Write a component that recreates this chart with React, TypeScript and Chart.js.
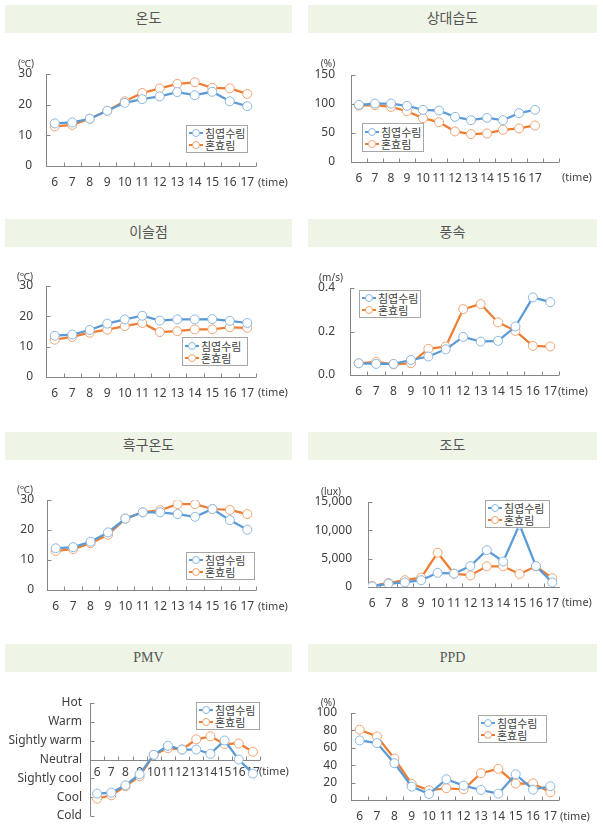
import React, { useEffect, useRef } from 'react';
import { Chart, registerables } from 'chart.js';

Chart.register(...registerables);

// ---------------- data ----------------
const HOURS = [6, 7, 8, 9, 10, 11, 12, 13, 14, 15, 16, 17];
const SERIES_NAMES = ['침엽수림', '혼효림'];
const PANEL_TITLES = ['온도', '상대습도', '이슬점', '풍속', '흑구온도', '조도', 'PMV', 'PPD'];
const UNIT_LABELS = ['(℃)', '(%)', '(℃)', '(m/s)', '(℃)', '(lux)', '', '(%)'];
const TIME_LABEL = '(time)';
const PMV_LEVELS = ['Cold', 'Cool', 'Sightly cool', 'Neutral', 'Sightly warm', 'Warm', 'Hot'];

const TEMP_CONIFER = [13.9, 14.2, 15.4, 18.0, 20.6, 21.8, 22.7, 24.1, 23.1, 24.2, 21.1, 19.5];
const TEMP_MIXED = [12.9, 13.4, 15.4, 18.0, 21.1, 23.8, 25.3, 26.8, 27.3, 25.5, 25.3, 23.5];
const RH_CONIFER = [98.5, 100.8, 100.8, 96.8, 89.9, 88.7, 77.9, 72.1, 76.1, 72.1, 84.2, 89.9];
const RH_MIXED = [97.3, 97.9, 95.0, 87.6, 75.6, 68.7, 52.7, 48.1, 49.2, 55.5, 57.8, 63.0];
const DEW_CONIFER = [13.6, 14.0, 15.5, 17.6, 19.0, 20.2, 18.6, 19.0, 19.0, 19.1, 18.5, 17.8];
const DEW_MIXED = [12.3, 13.2, 14.6, 15.6, 16.8, 17.8, 14.8, 15.1, 15.7, 15.7, 16.4, 16.2];
const WIND_CONIFER = [0.054, 0.051, 0.051, 0.069, 0.085, 0.118, 0.175, 0.154, 0.157, 0.223, 0.357, 0.335];
const WIND_MIXED = [0.054, 0.06, 0.049, 0.054, 0.12, 0.131, 0.303, 0.326, 0.242, 0.203, 0.134, 0.131];
const GLOBE_CONIFER = [13.9, 14.3, 16.1, 19.2, 23.8, 25.9, 25.9, 25.3, 24.4, 27.0, 23.3, 20.1];
const GLOBE_MIXED = [13.0, 13.6, 15.6, 18.4, 23.8, 25.9, 26.6, 28.6, 28.6, 27.0, 26.7, 25.3];
const LUX_CONIFER = [100, 600, 800, 1200, 2500, 2350, 3700, 6500, 4500, 11000, 3700, 800];
const LUX_MIXED = [200, 700, 1200, 1650, 6050, 2350, 2050, 3650, 3650, 2300, 3650, 1550];
const PMV_CONIFER = [-1.81, -1.76, -1.37, -0.78, 0.25, 0.73, 0.53, 0.53, 0.3, 1.01, 0.0, -0.75];
const PMV_MIXED = [-2.08, -1.9, -1.42, -0.89, 0.25, 0.6, 0.53, 1.07, 1.23, 0.82, 0.85, 0.41];
const PPD_CONIFER = [68.5, 65.4, 42.3, 15.4, 6.9, 23.8, 16.5, 11.5, 7.3, 29.6, 11.9, 15.8];
const PPD_MIXED = [80.8, 73.1, 47.7, 18.5, 11.2, 13.5, 12.3, 30.8, 35.8, 18.8, 19.2, 8.8];

// ---------------- styles ----------------
const SERIES_COLORS = ['#5B9BD5', '#ED7D31'];
const MARKER_BORDERS = ['#8AB8E2', '#F2A473'];
const AXIS_COLOR = '#868686';
const TEXT_COLOR = '#404040';
const NUM_FONT = "'Noto Sans', 'DejaVu Sans', sans-serif";
const KR_FONT = "'Noto Sans CJK KR', 'Noto Sans', sans-serif";

type Panel = {
  title: string;
  series: number[][];
  col: number;
  row: number;
  y: [number, number, number];
  x: [number, number];
  area: [number, number, number, number]; // axisX, top, right, bottom (page px)
  yPad: number;
  unit: string;
  unitAt: [number, number];
  timeAt: [number, number];
  legend: [number, number, number, number];
  fmt?: (v: number) => string;
  pmv?: boolean;
};

const PANELS: Panel[] = [
  { title: PANEL_TITLES[0], series: [TEMP_CONIFER, TEMP_MIXED], col: 0, row: 0, y: [0, 30, 10], x: [5.5, 17.5],
    area: [46, 74, 256, 166], yPad: 14, unit: UNIT_LABELS[0], unitAt: [26, 64], timeAt: [258, 183], legend: [186, 125, 62, 28] },
  { title: PANEL_TITLES[1], series: [RH_CONIFER, RH_MIXED], col: 1, row: 0, y: [0, 150, 50], x: [5.5, 18.5],
    area: [351, 75, 559, 162], yPad: 16, unit: UNIT_LABELS[1], unitAt: [328, 64], timeAt: [562, 178], legend: [362, 123, 62, 29] },
  { title: PANEL_TITLES[2], series: [DEW_CONIFER, DEW_MIXED], col: 0, row: 1, y: [0, 30, 10], x: [5.5, 17.5],
    area: [46, 286, 256, 377], yPad: 13, unit: UNIT_LABELS[2], unitAt: [25, 277], timeAt: [258, 393], legend: [182, 337, 66, 29] },
  { title: PANEL_TITLES[3], series: [WIND_CONIFER, WIND_MIXED], col: 1, row: 1, y: [0, 0.4, 0.2], x: [5.5, 17.5],
    area: [350, 288, 559, 375], yPad: 15, unit: UNIT_LABELS[3], unitAt: [331, 278], timeAt: [558, 392], legend: [359, 290, 62, 28],
    fmt: (v) => v.toFixed(1) },
  { title: PANEL_TITLES[4], series: [GLOBE_CONIFER, GLOBE_MIXED], col: 0, row: 2, y: [0, 30, 10], x: [5.5, 17.5],
    area: [47, 500, 256, 590], yPad: 13, unit: UNIT_LABELS[4], unitAt: [25, 490], timeAt: [258, 607], legend: [186, 552, 69, 28] },
  { title: PANEL_TITLES[5], series: [LUX_CONIFER, LUX_MIXED], col: 1, row: 2, y: [0, 15000, 5000], x: [5.75, 17.47],
    area: [368, 502, 560, 587], yPad: 16, unit: UNIT_LABELS[5], unitAt: [331, 492], timeAt: [562, 603], legend: [485, 500, 65, 28],
    fmt: (v) => v.toLocaleString('en-US') },
  { title: PANEL_TITLES[6], series: [PMV_CONIFER, PMV_MIXED], col: 0, row: 3, y: [-3, 3, 1], x: [5.5, 17.5],
    area: [90, 703, 260, 816], yPad: 8, unit: UNIT_LABELS[6], unitAt: [0, 0], timeAt: [259, 772], legend: [196, 702, 64, 28],
    fmt: (v) => PMV_LEVELS[Math.round(v) + 3], pmv: true },
  { title: PANEL_TITLES[7], series: [PPD_CONIFER, PPD_MIXED], col: 1, row: 3, y: [0, 100, 20], x: [5.5, 17.5],
    area: [351, 713, 559, 800], yPad: 14, unit: UNIT_LABELS[7], unitAt: [328, 703], timeAt: [560, 817], legend: [478, 715, 69, 28] },
];

const ROW_TOPS = [34, 248, 461, 673];
const BAR_TOPS = [5, 219, 432, 644];

const axesPlugin = {
  id: 'axesDraw',
  beforeDatasetsDraw(chart: any, _a: any, o: any) {
    const { ctx, chartArea: ca, scales } = chart;
    const lx = Math.round(ca.left) + 0.5;
    const by = Math.round(scales.y.getPixelForValue(o.crossY)) + 0.5;
    ctx.save();
    ctx.strokeStyle = AXIS_COLOR;
    ctx.lineWidth = 1;
    ctx.beginPath();
    ctx.moveTo(lx, ca.top);
    ctx.lineTo(lx, ca.bottom);
    ctx.moveTo(ca.left, by);
    ctx.lineTo(ca.right, by);
    scales.y.ticks.forEach((t: any) => {
      const py = Math.round(scales.y.getPixelForValue(t.value)) + 0.5;
      ctx.moveTo(lx, py);
      ctx.lineTo(lx + 4, py);
    });
    o.xTicks.forEach((v: number) => {
      const px = Math.round(scales.x.getPixelForValue(v)) + 0.5;
      ctx.moveTo(px, by);
      ctx.lineTo(px, by - 4);
    });
    ctx.stroke();
    ctx.restore();
  },
  afterDraw(chart: any, _a: any, o: any) {
    const { ctx } = chart;
    ctx.save();
    ctx.fillStyle = TEXT_COLOR;
    ctx.textBaseline = 'middle';
    ctx.font = `11px ${NUM_FONT}`;
    ctx.textAlign = 'left';
    ctx.fillText(o.time, o.timeAt[0], o.timeAt[1]);
    if (o.unit) {
      ctx.font = `10px ${NUM_FONT}`;
      ctx.textAlign = 'center';
      ctx.fillText(o.unit, o.unitAt[0], o.unitAt[1]);
    }
    ctx.restore();
  },
};

function ChartPanel({ p }: { p: Panel }) {
  const ref = useRef<HTMLCanvasElement>(null);
  const L = p.col ? 300 : 0;
  const W = p.col ? 303 : 300;
  const T = ROW_TOPS[p.row];
  const H = p.row === 3 ? 161 : 180;
  useEffect(() => {
    const [ax, top, right, bottom] = p.area;
    const padTop = top - T;
    const padRight = L + W - right;
    const yW = ax - L;
    const xH = T + H - bottom;
    const xTicks: number[] = [];
    for (let v = Math.ceil(p.x[0] - 0.5) + 0.5; v <= p.x[1] + 0.001; v += 1) xTicks.push(v);
    const cfg: any = {
      type: 'line',
      data: {
        datasets: p.series.map((s, i) => ({
          label: SERIES_NAMES[i],
          data: HOURS.map((h, k) => ({ x: h, y: s[k] })),
          borderColor: SERIES_COLORS[i],
          backgroundColor: SERIES_COLORS[i],
          borderWidth: 2.25,
          pointRadius: 4.5,
          pointBorderWidth: 1,
          pointBackgroundColor: '#ffffff',
          pointBorderColor: MARKER_BORDERS[i],
          tension: 0,
        })),
      },
      options: {
        animation: false,
        responsive: false,
        maintainAspectRatio: false,
        devicePixelRatio: 1,
        events: [],
        layout: { padding: { left: 0, top: padTop, right: padRight, bottom: p.pmv ? xH : 0 } },
        plugins: {
          legend: { display: false },
          tooltip: { enabled: false },
          axesDraw: {
            crossY: p.pmv ? 0 : p.y[0],
            xTicks,
            time: TIME_LABEL,
            timeAt: [p.timeAt[0] - L, p.timeAt[1] - T],
            unit: p.unit,
            unitAt: [p.unitAt[0] - L, p.unitAt[1] - T],
          },
        },
        scales: {
          x: {
            type: 'linear',
            min: p.x[0],
            max: p.x[1],
            position: p.pmv ? { y: 0 } : 'bottom',
            grid: { display: false, drawTicks: false },
            border: { display: false },
            afterBuildTicks: (s: any) => {
              s.ticks = HOURS.map((v) => ({ value: v }));
            },
            afterFit: (s: any) => {
              if (!p.pmv) s.height = xH;
            },
            ticks: {
              autoSkip: false,
              maxRotation: 0,
              padding: p.pmv ? 6 : 9,
              color: TEXT_COLOR,
              font: { family: NUM_FONT, size: 12 },
              callback: (v: number) => String(v),
            },
          },
          y: {
            type: 'linear',
            min: p.y[0],
            max: p.y[1],
            grid: { display: false, drawTicks: false },
            border: { display: false },
            afterFit: (s: any) => {
              s.width = yW;
            },
            ticks: {
              stepSize: p.y[2],
              padding: p.yPad,
              color: TEXT_COLOR,
              font: { family: NUM_FONT, size: 12 },
              callback: (v: number) => (p.fmt ? p.fmt(v) : String(v)),
            },
          },
        },
      },
      plugins: [axesPlugin],
    };
    const chart = new Chart(ref.current as HTMLCanvasElement, cfg);
    return () => chart.destroy();
  }, []);
  return (
    <canvas
      ref={ref}
      width={W}
      height={H}
      style={{ position: 'absolute', left: L, top: T, width: W, height: H }}
    />
  );
}

function Legend({ box }: { box: [number, number, number, number] }) {
  const [x, y, w, h] = box;
  return (
    <div
      style={{
        position: 'absolute', left: x, top: y, width: w, height: h, boxSizing: 'border-box',
        border: '1px solid #a6a6a6', background: '#ffffff', fontFamily: KR_FONT, fontSize: 11,
        color: TEXT_COLOR, padding: '0 2px', display: 'flex', flexDirection: 'column', justifyContent: 'center',
      }}
    >
      {SERIES_NAMES.map((name, i) => (
        <div key={name} style={{ display: 'flex', alignItems: 'center', height: 12, lineHeight: '12px', whiteSpace: 'nowrap' }}>
          <span style={{ position: 'relative', width: 14, height: 10, marginRight: 2, flex: 'none' }}>
            <span style={{ position: 'absolute', left: 0, top: 4, width: 14, height: 2, background: SERIES_COLORS[i] }} />
            <span
              style={{
                position: 'absolute', left: 3, top: 1, width: 6, height: 6, borderRadius: '50%',
                background: '#fff', border: `1px solid ${MARKER_BORDERS[i]}`,
              }}
            />
          </span>
          {name}
        </div>
      ))}
    </div>
  );
}

export default function App() {
  return (
    <div style={{ position: 'absolute', left: 0, top: 0, width: 603, height: 834, background: '#ffffff', overflow: 'hidden' }}>
      {PANELS.map((p, i) => (
        <div
          key={'t' + i}
          style={{
            position: 'absolute', left: p.col ? 308 : 5, top: BAR_TOPS[p.row], width: p.col ? 289 : 287, height: 28,
            background: '#EEF4E6', textAlign: 'center', lineHeight: '28px', fontSize: 14,
            fontFamily: "'Liberation Serif', 'Noto Sans CJK KR', serif", color: '#555555', fontWeight: 'normal',
          }}
        >
          {p.title}
        </div>
      ))}
      {PANELS.map((p, i) => (
        <ChartPanel key={'c' + i} p={p} />
      ))}
      {PANELS.map((p, i) => (
        <Legend key={'l' + i} box={p.legend} />
      ))}
    </div>
  );
}
